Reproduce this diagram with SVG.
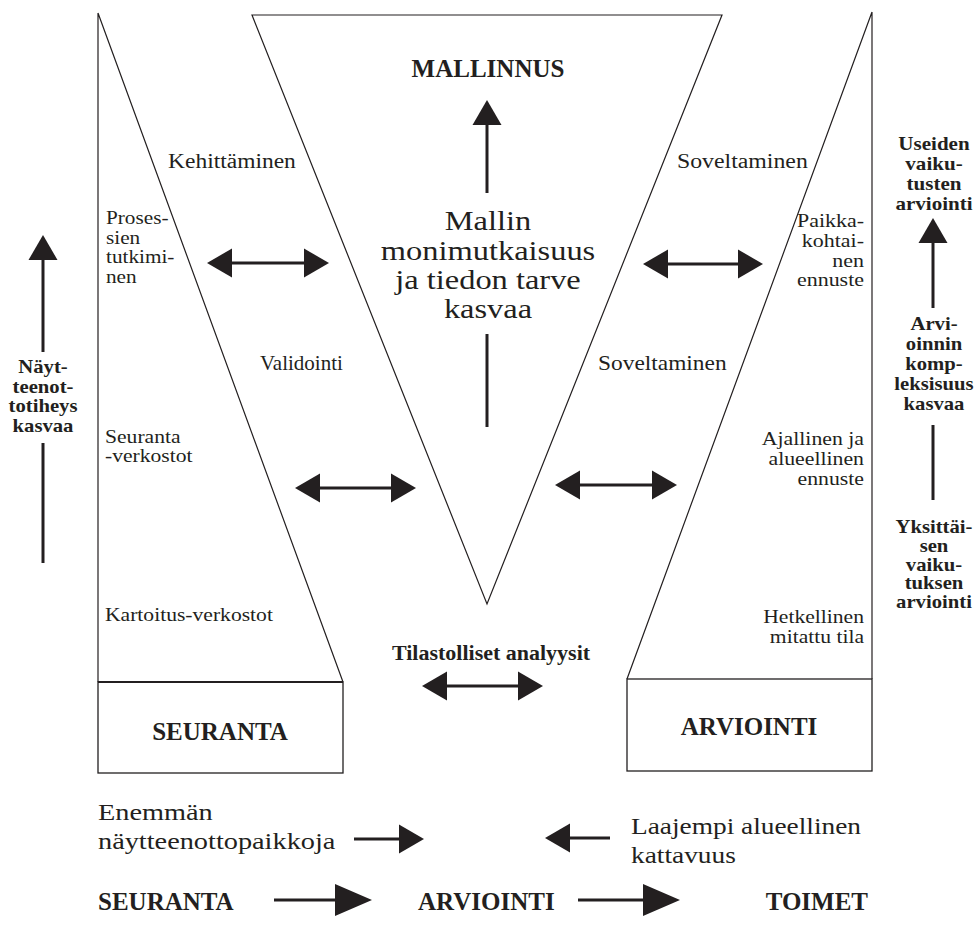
<svg xmlns="http://www.w3.org/2000/svg" width="975" height="926" viewBox="0 0 975 926">
  <style>
    .frame { fill: none; stroke: #231f20; stroke-width: 1.2; }
    .box { fill: #fff; stroke: #231f20; stroke-width: 1.3; }
    .t { font-family: "Liberation Serif", "Times New Roman", serif; fill: #231f20; }
    .b { font-weight: bold; }
    .mid { text-anchor: middle; }
    .end { text-anchor: end; }
    .s18 { font-size: 18px; }
    .s20 { font-size: 20px; }
    .s24 { font-size: 24px; }
    .s25 { font-size: 25px; }
    .s27 { font-size: 27.5px; }
    .arrow { fill: none; stroke: #231f20; stroke-width: 3; }
  </style>
  <defs>
    <marker id="head" viewBox="0 -14.5 25 29" markerUnits="userSpaceOnUse" markerWidth="25" markerHeight="29" refX="0" refY="0" orient="auto-start-reverse" overflow="visible">
      <path d="M0,-14.5 L25,0 L0,14.5 Z" fill="#231f20"/>
    </marker>
    <marker id="headL" viewBox="0 -16 37 32" markerUnits="userSpaceOnUse" markerWidth="37" markerHeight="32" refX="0" refY="0" orient="auto-start-reverse" overflow="visible">
      <path d="M0,-16 L37,0 L0,16 Z" fill="#231f20"/>
    </marker>
  </defs>
  <rect width="975" height="926" fill="#fff"/>

  <!-- monitoring wedge (left) with its base box -->
  <g id="seuranta">
    <path class="frame" d="M98,13 L98,682 M98,13 L343,682"/>
    <rect class="box" x="98" y="682" width="245" height="91"/>
    <line x1="98" y1="682" x2="343" y2="682" stroke="#231f20" stroke-width="2.2"/>
    <text class="t b s25 mid" x="220" y="740">SEURANTA</text>
  </g>

  <!-- modelling funnel (centre) -->
  <g id="mallinnus">
    <polygon class="frame" points="252,15 722,15 487,604"/>
    <text class="t b s25 mid" x="488" y="77">MALLINNUS</text>
    <g transform="translate(488,0) scale(1.18,1)">
      <text class="t s27 mid" x="0" y="230">Mallin</text>
      <text class="t s27 mid" x="0" y="260">monimutkaisuus</text>
      <text class="t s27 mid" x="0" y="289">ja tiedon tarve</text>
      <text class="t s27 mid" x="0" y="318">kasvaa</text>
    </g>
  </g>

  <!-- assessment wedge (right) with its base box -->
  <g id="arviointi">
    <path class="frame" d="M872,12 L872,679 M872,12 L627,679"/>
    <rect class="box" x="627" y="679" width="245" height="92"/>
    <text class="t b s25 mid" x="749" y="735">ARVIOINTI</text>
  </g>

  <!-- labels between the wedges -->
  <g id="kehittaminen" transform="translate(168,0) scale(1.175,1)">
    <text class="t s20" x="0" y="168">Kehittäminen</text>
  </g>
  <g id="soveltaminen-1" transform="translate(677,0) scale(1.19,1)">
    <text class="t s20" x="0" y="168">Soveltaminen</text>
  </g>
  <g id="validointi" transform="translate(260,0) scale(1.05,1)">
    <text class="t s20" x="0" y="370">Validointi</text>
  </g>
  <g id="soveltaminen-2" transform="translate(598,0) scale(1.17,1)">
    <text class="t s20" x="0" y="370">Soveltaminen</text>
  </g>
  <g id="tilastolliset" transform="translate(491,0) scale(1.1,1)">
    <text class="t b s20 mid" x="0" y="660">Tilastolliset analyysit</text>
  </g>

  <!-- labels inside the monitoring wedge -->
  <g id="prosessien" transform="translate(106,0) scale(1.18,1)">
    <text class="t s18" x="0" y="224">Proses-</text>
    <text class="t s18" x="0" y="244">sien</text>
    <text class="t s18" x="0" y="263">tutkimi-</text>
    <text class="t s18" x="0" y="283">nen</text>
  </g>
  <g id="seurantaverkostot" transform="translate(105,0) scale(1.2,1)">
    <text class="t s18" x="0" y="443">Seuranta</text>
    <text class="t s18" x="0" y="462">-verkostot</text>
  </g>
  <g id="kartoitusverkostot" transform="translate(105,0) scale(1.2,1)">
    <text class="t s18" x="0" y="621">Kartoitus-verkostot</text>
  </g>

  <!-- labels inside the assessment wedge -->
  <g id="paikkakohtainen" transform="translate(864,0) scale(1.22,1)">
    <text class="t s18 end" x="0" y="227">Paikka-</text>
    <text class="t s18 end" x="0" y="247">kohtai-</text>
    <text class="t s18 end" x="0" y="267">nen</text>
    <text class="t s18 end" x="0" y="286">ennuste</text>
  </g>
  <g id="ajallinen" transform="translate(864,0) scale(1.21,1)">
    <text class="t s18 end" x="0" y="445">Ajallinen ja</text>
    <text class="t s18 end" x="0" y="465">alueellinen</text>
    <text class="t s18 end" x="0" y="485">ennuste</text>
  </g>
  <g id="hetkellinen" transform="translate(864,0) scale(1.2,1)">
    <text class="t s18 end" x="0" y="623">Hetkellinen</text>
    <text class="t s18 end" x="0" y="643">mitattu tila</text>
  </g>

  <!-- side scales -->
  <g id="naytteenottotiheys" transform="translate(43,0) scale(1.15,1)">
    <text class="t b s18 mid" x="0" y="373">Näyt-</text>
    <text class="t b s18 mid" x="0" y="393">teenot-</text>
    <text class="t b s18 mid" x="0" y="412">totiheys</text>
    <text class="t b s18 mid" x="0" y="432">kasvaa</text>
  </g>
  <g id="useiden" transform="translate(934,0) scale(1.17,1)">
    <text class="t b s18 mid" x="0" y="150">Useiden</text>
    <text class="t b s18 mid" x="0" y="170">vaiku-</text>
    <text class="t b s18 mid" x="0" y="190">tusten</text>
    <text class="t b s18 mid" x="0" y="210">arviointi</text>
  </g>
  <g id="kompleksisuus" transform="translate(934,0) scale(1.15,1)">
    <text class="t b s18 mid" x="0" y="330">Arvi-</text>
    <text class="t b s18 mid" x="0" y="350">oinnin</text>
    <text class="t b s18 mid" x="0" y="370">komp-</text>
    <text class="t b s18 mid" x="0" y="390">leksisuus</text>
    <text class="t b s18 mid" x="0" y="410">kasvaa</text>
  </g>
  <g id="yksittaisen" transform="translate(934,0) scale(1.15,1)">
    <text class="t b s18 mid" x="0" y="533">Yksittäi-</text>
    <text class="t b s18 mid" x="0" y="552">sen</text>
    <text class="t b s18 mid" x="0" y="571">vaiku-</text>
    <text class="t b s18 mid" x="0" y="589">tuksen</text>
    <text class="t b s18 mid" x="0" y="608">arviointi</text>
  </g>

  <!-- lower captions -->
  <g id="enemman" transform="translate(98,0) scale(1.18,1)">
    <text class="t s24" x="0" y="820">Enemmän</text>
    <text class="t s24" x="0" y="849">näytteenottopaikkoja</text>
  </g>
  <g id="laajempi" transform="translate(631,0) scale(1.14,1)">
    <text class="t s24" x="0" y="834">Laajempi alueellinen</text>
    <text class="t s24" x="0" y="863">kattavuus</text>
  </g>

  <!-- process chain -->
  <g id="chain-seuranta"><text class="t b s25" x="98" y="910">SEURANTA</text></g>
  <g id="chain-arviointi"><text class="t b s25" x="418" y="910">ARVIOINTI</text></g>
  <g id="chain-toimet"><text class="t b s25 end" x="868" y="910">TOIMET</text></g>

  <!-- connectors -->
  <g id="connectors">
    <!-- two-way arrows -->
    <line class="arrow" x1="232" y1="263" x2="304" y2="263" marker-start="url(#head)" marker-end="url(#head)"/>
    <line class="arrow" x1="668" y1="264" x2="738" y2="264" marker-start="url(#head)" marker-end="url(#head)"/>
    <line class="arrow" x1="320" y1="488" x2="391" y2="488" marker-start="url(#head)" marker-end="url(#head)"/>
    <line class="arrow" x1="580" y1="485" x2="652" y2="485" marker-start="url(#head)" marker-end="url(#head)"/>
    <line class="arrow" x1="447" y1="686" x2="518" y2="686" marker-start="url(#head)" marker-end="url(#head)"/>
    <!-- upward arrows with broken shafts -->
    <line class="arrow" x1="487" y1="193" x2="487" y2="125" marker-end="url(#head)"/>
    <line class="arrow" x1="487" y1="334" x2="487" y2="427"/>
    <line class="arrow" x1="43" y1="352" x2="43" y2="260" marker-end="url(#head)"/>
    <line class="arrow" x1="43" y1="443" x2="43" y2="563"/>
    <line class="arrow" x1="933" y1="308" x2="933" y2="243" marker-end="url(#head)"/>
    <line class="arrow" x1="933" y1="425" x2="933" y2="500"/>
    <!-- converging arrows -->
    <line class="arrow" x1="354" y1="839" x2="399" y2="839" marker-end="url(#head)"/>
    <line class="arrow" x1="610" y1="838" x2="570" y2="838" marker-end="url(#head)"/>
    <!-- chain arrows -->
    <line class="arrow" x1="274" y1="900" x2="335" y2="900" marker-end="url(#headL)"/>
    <line class="arrow" x1="578" y1="900" x2="643" y2="900" marker-end="url(#headL)"/>
  </g>
</svg>
